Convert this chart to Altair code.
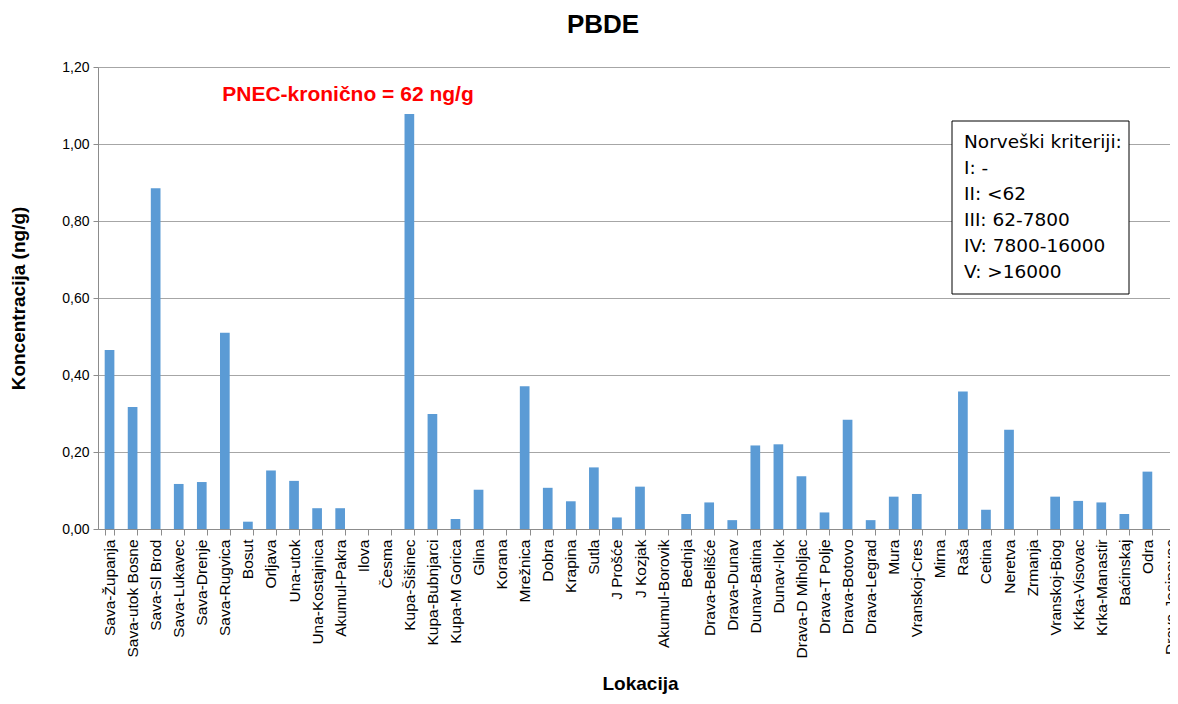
import altair as alt
import pandas as pd

locations = [
    "Sava-Županja", "Sava-utok Bosne", "Sava-Sl Brod", "Sava-Lukavec", "Sava-Drenje",
    "Sava-Rugvica", "Bosut", "Orljava", "Una-utok", "Una-Kostajnica", "Akumul-Pakra",
    "Ilova", "Česma", "Kupa-Šišinec", "Kupa-Bubnjarci", "Kupa-M Gorica", "Glina",
    "Korana", "Mrežnica", "Dobra", "Krapina", "Sutla", "J Prošće", "J Kozjak",
    "Akumul-Borovik", "Bednja", "Drava-Belišće", "Drava-Dunav", "Dunav-Batina",
    "Dunav-Ilok", "Drava-D Miholjac", "Drava-T Polje", "Drava-Botovo", "Drava-Legrad",
    "Mura", "Vranskoj-Cres", "Mirna", "Raša", "Cetina", "Neretva", "Zrmanja",
    "Vranskoj-Biog", "Krka-Visovac", "Krka-Manastir", "Baćinskaj", "Odra",
    "Drava-Josipovac",
]
values = [
    0.465, 0.317, 0.885, 0.117, 0.122, 0.510, 0.019, 0.152, 0.125, 0.054, 0.054,
    0.0, 0.0, 1.078, 0.299, 0.026, 0.102, 0.0, 0.371, 0.107, 0.072, 0.160, 0.030,
    0.110, 0.0, 0.039, 0.069, 0.023, 0.217, 0.220, 0.137, 0.043, 0.284, 0.023,
    0.084, 0.091, 0.0, 0.357, 0.050, 0.258, 0.0, 0.084, 0.073, 0.069, 0.039,
    0.149, 0.0,
]
y_ticks = [0.0, 0.2, 0.4, 0.6, 0.8, 1.0, 1.2]
pnec_text = "PNEC-kronično = 62 ng/g"
criteria_lines = [
    "Norveški kriteriji:", "I: -", "II: <62", "III: 62-7800",
    "IV: 7800-16000", "V: >16000",
]

df = pd.DataFrame({"Lokacija": locations, "Koncentracija": values})
one = pd.DataFrame({"k": [0]})

FONT = "Liberation Sans"
W, H = 1072, 462

bars = alt.Chart(df).mark_bar(color="#5B9BD5").encode(
    x=alt.X(
        "Lokacija:N",
        sort=None,
        scale=alt.Scale(paddingInner=0.58, paddingOuter=0.29, range=[0, 1084]),
        axis=alt.Axis(
            title="Lokacija",
            labelAngle=-90,
            labelAlign="right",
            labelBaseline="middle",
            labelFontSize=15.5,
            labelFont=FONT,
            labelColor="#000000",
            labelPadding=4,
            labelOverlap=False,
            labelLimit=300,
            tickBand="extent",
            tickSize=6,
            tickColor="#8c8c8c",
            domainColor="#8c8c8c",
            titleFont=FONT,
            titleFontSize=19,
            titleFontWeight="bold",
            titleColor="#000000",
            titleY=164,
            titleBaseline="bottom",
            grid=False,
        ),
    ),
    y=alt.Y(
        "Koncentracija:Q",
        scale=alt.Scale(domain=[0, 1.2], nice=False),
        axis=alt.Axis(
            title="Koncentracija  (ng/g)",
            values=y_ticks,
            labelExpr="replace(format(datum.value, '.2f'), '.', ',')",
            labelFontSize=14,
            labelFont=FONT,
            labelColor="#000000",
            labelPadding=4,
            tickSize=5,
            tickColor="#8c8c8c",
            domainColor="#8c8c8c",
            grid=True,
            gridColor="#a6a6a6",
            gridWidth=1,
            titleFont=FONT,
            titleFontSize=19,
            titleFontWeight="bold",
            titleColor="#000000",
            titlePadding=33,
        ),
    ),
)

pnec = alt.Chart(one).mark_text(
    text=pnec_text, font=FONT, fontSize=21, fontWeight="bold", color="#FF0000",
    align="center", baseline="middle",
).encode(x=alt.value(250), y=alt.value(28))

box = alt.Chart(one).mark_rect(
    fill="white", stroke="#000000", strokeWidth=1,
).encode(x=alt.value(854), x2=alt.value(1031), y=alt.value(54), y2=alt.value(227))

legend_text = alt.Chart(one).mark_text(
    text=criteria_lines, font="DejaVu Sans", fontSize=18.5, color="#000000",
    align="left", baseline="middle", lineHeight=26,
).encode(x=alt.value(866), y=alt.value(75))

chart = alt.layer(bars, box, legend_text, pnec).properties(
    width=W,
    height=H,
    autosize=alt.AutoSizeParams(type="none"),
    padding={"left": 90, "top": 59, "right": 0, "bottom": 165},
    title=alt.TitleParams(
        "PBDE", font=FONT, fontSize=26, fontWeight="bold", color="#000000",
        anchor="middle", dx=-31, offset=22,
    ),
).configure_view(stroke=None).configure(background="white")

chart.save("out.html", embed_options={"renderer": "svg", "actions": False})
